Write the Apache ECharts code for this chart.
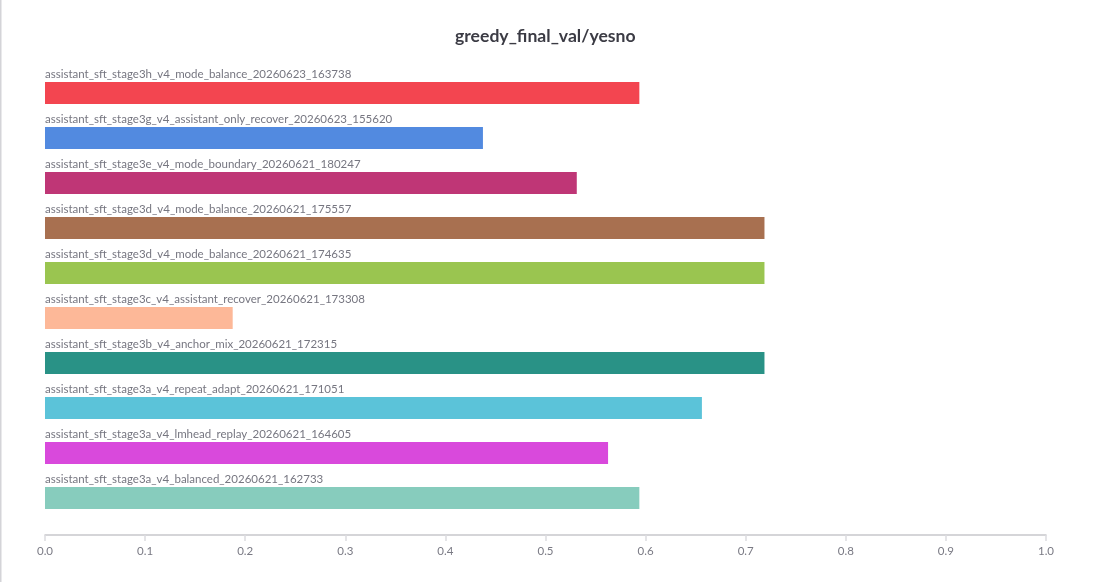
<!DOCTYPE html>
<html>
<head>
<meta charset="utf-8">
<script src="https://cdn.jsdelivr.net/npm/echarts@6/dist/echarts.min.js"></script>
<style>
  html, body { margin: 0; padding: 0; background: #fff; }
  #main { width: 1108px; height: 582px; }
</style>
</head>
<body>
<div id="main"></div>
<script>
// runs, top to bottom
var runs = [
  'assistant_sft_stage3h_v4_mode_balance_20260623_163738',
  'assistant_sft_stage3g_v4_assistant_only_recover_20260623_155620',
  'assistant_sft_stage3e_v4_mode_boundary_20260621_180247',
  'assistant_sft_stage3d_v4_mode_balance_20260621_175557',
  'assistant_sft_stage3d_v4_mode_balance_20260621_174635',
  'assistant_sft_stage3c_v4_assistant_recover_20260621_173308',
  'assistant_sft_stage3b_v4_anchor_mix_20260621_172315',
  'assistant_sft_stage3a_v4_repeat_adapt_20260621_171051',
  'assistant_sft_stage3a_v4_lmhead_replay_20260621_164605',
  'assistant_sft_stage3a_v4_balanced_20260621_162733'
];
var yesno = [0.59375, 0.4375, 0.53125, 0.71875, 0.71875, 0.1875, 0.71875, 0.65625, 0.5625, 0.59375];
var runColors = ['#F34550', '#528AE0', '#BF3676', '#A87050', '#9AC550',
                 '#FDB898', '#299286', '#5BC3D9', '#D949DC', '#87CCBD'];

var chart = echarts.init(document.getElementById('main'));

var option = {
  backgroundColor: '#ffffff',
  animation: false,
  title: {
    text: 'greedy_final_val/yesno',
    left: 450,
    top: 22,
    textStyle: {
      fontFamily: 'Lato',
      fontSize: 17.6,
      fontWeight: 'bold',
      color: '#3b3b44'
    }
  },
  grid: {
    left: 45,
    right: 62,
    top: 70.5,
    bottom: 61.5
  },
  xAxis: {
    type: 'value',
    min: 0,
    max: 1,
    interval: 0.1,
    offset: 14.5,
    axisLine: { show: true, lineStyle: { color: '#c8c8cc', width: 1.5 } },
    axisTick: { show: true, length: 6, lineStyle: { color: '#dcdce0', width: 1.5 } },
    splitLine: { show: false },
    axisLabel: {
      margin: 10,
      color: '#7a7a84',
      fontFamily: 'Lato',
      fontSize: 11.5,
      formatter: function (v) { return v.toFixed(1); }
    }
  },
  yAxis: {
    type: 'category',
    data: runs,
    inverse: true,
    axisLine: { show: false },
    axisTick: { show: false },
    axisLabel: { show: false }
  },
  graphic: [{
    type: 'rect',
    shape: { x: 0, y: 0, width: 1.5, height: 582 },
    style: { fill: '#d4d4d8' },
    silent: true
  }],
  series: [{
    type: 'bar',
    barWidth: 22,
    data: yesno.map(function (v, i) {
      return { value: v, itemStyle: { color: runColors[i] } };
    }),
    label: {
      show: true,
      position: [0, -8],
      align: 'left',
      verticalAlign: 'middle',
      color: '#767680',
      fontFamily: 'Lato',
      fontSize: 11.5,
      formatter: function (p) { return p.name; }
    }
  }]
};

chart.setOption(option);
</script>
</body>
</html>
